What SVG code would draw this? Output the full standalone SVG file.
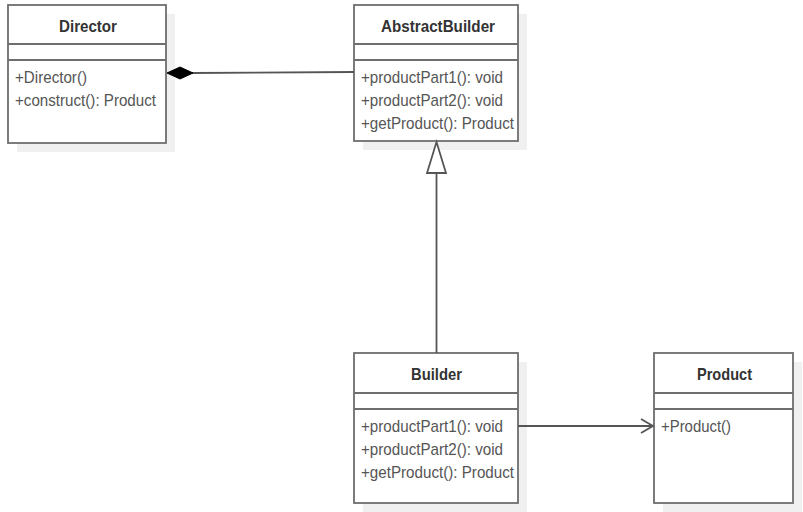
<svg xmlns="http://www.w3.org/2000/svg" width="803" height="512" viewBox="0 0 803 512">
<style>
.shadow{fill:#f0f0f0;stroke:none}
.box{fill:#fff;stroke:#6e6e6e;stroke-width:1.8}
.div{stroke:#6e6e6e;stroke-width:1.8}
.title{font-family:"Liberation Sans",Arial,sans-serif;font-size:17px;font-weight:bold;fill:#333;text-anchor:start}
.m{font-family:"Liberation Sans",Arial,sans-serif;font-size:17px;fill:#555}
.edge{stroke:#555;stroke-width:1.8;fill:none}
</style>
<rect width="803" height="512" fill="#fff"/>
<g id="director">
<rect class="shadow" x="17" y="14" width="158" height="138"/>
<rect class="box" x="8" y="5" width="158" height="138"/>
<line class="div" x1="8" y1="44" x2="166" y2="44"/>
<line class="div" x1="8" y1="60" x2="166" y2="60"/>
<text class="title" x="59" y="32" textLength="58" lengthAdjust="spacingAndGlyphs">Director</text>
<text class="m" x="15" y="83" textLength="72" lengthAdjust="spacingAndGlyphs">+Director()</text>
<text class="m" x="15" y="106" textLength="141" lengthAdjust="spacingAndGlyphs">+construct(): Product</text>
</g>
<g id="abstractbuilder">
<rect class="shadow" x="363" y="14" width="164" height="136"/>
<rect class="box" x="354" y="5" width="164" height="136"/>
<line class="div" x1="354" y1="44" x2="518" y2="44"/>
<line class="div" x1="354" y1="60" x2="518" y2="60"/>
<text class="title" x="381" y="32" textLength="114" lengthAdjust="spacingAndGlyphs">AbstractBuilder</text>
<text class="m" x="361" y="83" textLength="142" lengthAdjust="spacingAndGlyphs">+productPart1(): void</text>
<text class="m" x="361" y="106" textLength="142" lengthAdjust="spacingAndGlyphs">+productPart2(): void</text>
<text class="m" x="361" y="129" textLength="153" lengthAdjust="spacingAndGlyphs">+getProduct(): Product</text>
</g>
<g id="builder">
<rect class="shadow" x="363" y="362" width="164" height="150"/>
<rect class="box" x="354" y="353" width="164" height="150"/>
<line class="div" x1="354" y1="393" x2="518" y2="393"/>
<line class="div" x1="354" y1="409" x2="518" y2="409"/>
<text class="title" x="411" y="380" textLength="51" lengthAdjust="spacingAndGlyphs">Builder</text>
<text class="m" x="361" y="432" textLength="142" lengthAdjust="spacingAndGlyphs">+productPart1(): void</text>
<text class="m" x="361" y="455" textLength="142" lengthAdjust="spacingAndGlyphs">+productPart2(): void</text>
<text class="m" x="361" y="478" textLength="153" lengthAdjust="spacingAndGlyphs">+getProduct(): Product</text>
</g>
<g id="product">
<rect class="shadow" x="663" y="362" width="139" height="150"/>
<rect class="box" x="654" y="353" width="139" height="150"/>
<line class="div" x1="654" y1="393" x2="793" y2="393"/>
<line class="div" x1="654" y1="409" x2="793" y2="409"/>
<text class="title" x="697" y="380" textLength="55" lengthAdjust="spacingAndGlyphs">Product</text>
<text class="m" x="661" y="432" textLength="70" lengthAdjust="spacingAndGlyphs">+Product()</text>
</g>
<g id="connectors">
<line class="edge" x1="192" y1="73" x2="354" y2="72"/>
<polygon points="167,73 180,67 193,73 180,79" fill="#000" stroke="#000" stroke-width="1"/>
<line class="edge" x1="436.5" y1="173" x2="436.5" y2="353"/>
<polygon points="436.5,142 446,173 427,173" fill="#fff" stroke="#555" stroke-width="1.8"/>
<line class="edge" x1="518" y1="426" x2="653" y2="426"/>
<polyline class="edge" points="641,419 653,426 641,433"/>
</g>
</svg>
